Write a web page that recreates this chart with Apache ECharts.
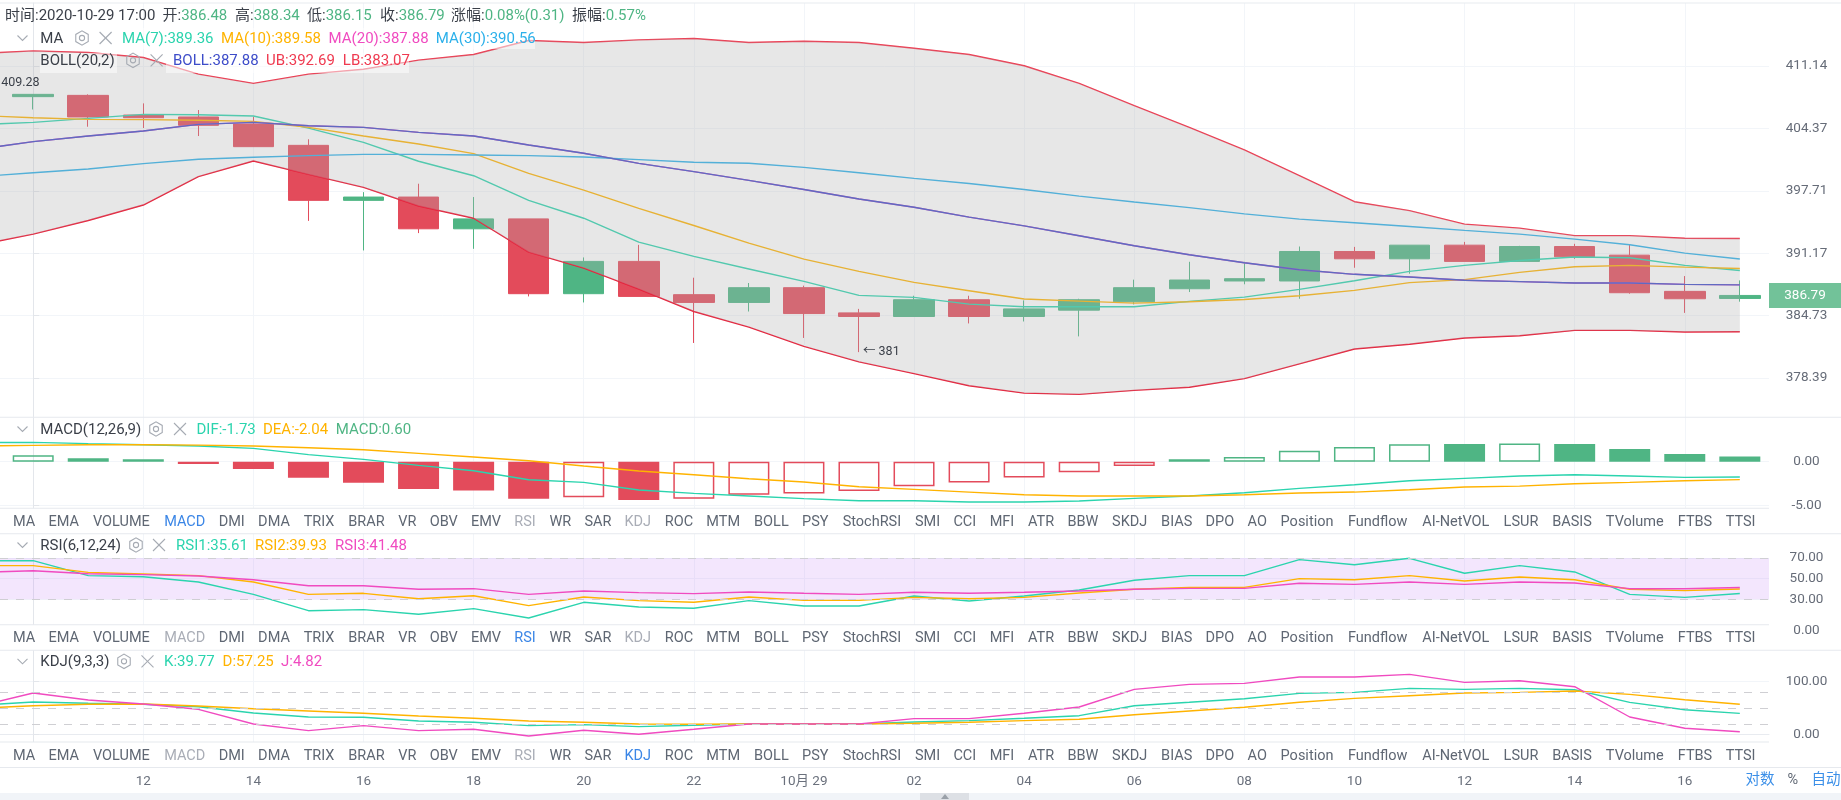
<!DOCTYPE html>
<html>
<head>
<meta charset="utf-8">
<title>K线图</title>
<script src="https://cdn.jsdelivr.net/npm/echarts@6/dist/echarts.min.js"></script>
<style>
    html, body { margin: 0; padding: 0; background: #fff; }
    #main { width: 1841px; height: 800px; }
</style>
</head>
<body>
<div id="main"></div>
<script>
// 蜡烛图数据
var opens = [407.8,407.94,405.81,405.6,404.84,402.55,396.7,397.05,393.71,394.75,386.97,390.31,386.87,386.07,387.59,385.0,384.63,386.35,384.63,385.28,386.14,387.48,388.28,388.28,391.34,390.58,392.0,390.31,391.86,390.96,387.21,386.48];
var closes = [408.05,405.6,405.52,404.7,402.41,396.7,397.05,393.71,394.75,386.97,390.31,386.69,386.07,387.59,384.93,384.63,386.35,384.63,385.41,386.35,387.59,388.38,388.52,391.34,390.58,392.0,390.31,391.86,390.79,387.07,386.45,386.79];
var lows = [406.41,404.55,404.41,403.55,402.41,394.54,391.45,393.26,391.62,386.69,386.07,386.69,381.93,385.14,382.44,381.0,384.63,383.92,384.12,382.6,385.87,387.14,387.94,386.45,389.65,389.03,390.31,390.31,390.58,386.97,385.0,386.15];
var highs = [408.05,408.05,407.07,406.35,405.63,403.2,397.57,398.46,397.05,394.75,390.72,392.03,388.62,388.07,387.8,385.41,386.76,386.76,386.28,386.45,388.42,390.27,390.27,391.86,391.82,392.0,392.34,391.93,392.14,392.03,388.79,388.34];
var offscreenHigh = 409.28;

// 指标线，第一个点在画面左侧之外
var ma7 = [404.77,405.02,405.45,405.88,405.84,405.7,404.4,402.87,400.85,399.31,396.7,394.82,392.32,390.83,389.52,388.24,386.8,386.59,385.9,385.63,385.63,385.63,386.18,386.62,387.42,388.31,389.28,389.9,390.41,390.76,390.69,389.9,389.36];
var ma10 = [405.76,405.52,405.34,405.31,405.24,405.13,404.48,403.55,402.69,401.66,399.56,397.78,395.86,394.06,392.21,390.55,389.28,388.14,387.28,386.42,386.21,386.0,386.14,386.38,386.76,387.31,388.11,388.42,389.17,389.76,389.9,389.72,389.58];
var ma30 = [399.2,399.63,400.03,400.6,401.06,401.27,401.45,401.59,401.59,401.52,401.45,401.31,401.02,400.74,400.63,400.2,399.63,399.03,398.49,397.85,397.15,396.53,395.94,395.28,394.72,394.34,393.95,393.54,393.15,392.63,392.04,391.17,390.56];
var bollMid = [402.13,402.95,403.55,404.09,404.8,405.02,404.66,404.48,403.94,403.55,402.59,401.7,400.63,399.74,398.81,397.85,396.84,395.97,394.93,394.02,392.98,391.94,391.0,390.17,389.45,388.97,388.69,388.35,388.21,388.07,388.07,387.93,387.88];
var bollUp = [412.5,412.8,412.62,412.07,410.25,409.24,410.25,410.79,411.78,412.4,413.94,413.72,414.01,414.16,413.72,413.86,413.72,413.09,412.4,411.17,409.24,406.82,404.48,402.06,399.32,396.56,395.62,394.2,393.78,393.0,393.0,392.72,392.69];
var bollLow = [392.0,393.15,394.58,396.21,399.21,400.88,399.45,398.07,396.11,394.82,391.27,389.62,387.45,385.14,383.55,381.59,380.01,378.83,377.61,376.87,376.74,377.14,377.45,378.32,379.81,381.32,381.8,382.44,382.67,383.21,383.21,383.04,383.07];

var macdBars = [0.72,0.38,0.27,-0.27,-0.83,-1.82,-2.39,-3.11,-3.26,-4.2,-4.05,-4.36,-4.2,-3.75,-3.6,-3.33,-2.8,-2.35,-1.78,-1.21,-0.49,0.27,0.53,1.25,1.67,1.97,2.0,2.08,2.0,1.44,0.87,0.6];
var macdHollow = [0,10,12,13,14,15,16,17,18,19,20,22,23,24,25,27];
var dif = [2.18,2.2,2.05,1.93,1.78,1.52,0.8,0.27,-0.42,-1.02,-2.05,-2.35,-3.22,-3.6,-3.9,-4.2,-4.43,-4.43,-4.58,-4.58,-4.47,-4.17,-3.9,-3.52,-3.03,-2.61,-2.16,-1.89,-1.63,-1.48,-1.63,-1.78,-1.73];
var dea = [1.78,1.86,1.93,1.93,1.89,1.78,1.59,1.36,0.95,0.53,0.11,-0.49,-1.06,-1.48,-1.93,-2.31,-2.84,-3.14,-3.45,-3.75,-3.9,-3.9,-3.9,-3.75,-3.56,-3.45,-3.18,-2.88,-2.77,-2.5,-2.35,-2.16,-2.04];

var rsi1 = [67.4,67.4,52.9,51.9,46.8,34.8,19.0,20,15.5,21,11.9,27.1,22.6,21.3,28.7,23.5,23.5,33.2,28.4,33.2,39,48.4,52.9,52.9,68.4,63.5,69.7,55.2,62.6,56.5,34.8,31.9,35.61];
var rsi2 = [62.6,62.6,56.1,54.5,52.9,46.8,34.8,35.8,30.6,33.5,23.9,32.3,28.7,27.1,32.3,29,29,31.9,30.6,31.9,36.1,39.7,41.6,41.6,50,49,52.9,47.7,51.6,49,39.7,38.4,39.93];
var rsi3 = [56.1,57.7,54.8,53.9,52.6,49,43.2,43.2,39.7,40.3,34.8,38.1,36.5,35.5,37.1,35.8,34.8,36.8,35.8,36.8,38.1,39.7,40.6,40.6,45.5,44.5,46.8,44.5,46.8,45.8,40.3,40.3,41.48];

var kdjK = [55.1,61.4,58.9,57,52.5,40.5,32.9,32.3,25.3,22.8,16.5,18.4,14.6,17.1,19.6,19.6,19.6,23.4,25.9,30.4,35.4,54.4,60.8,67.7,77.8,79.7,87.3,85.4,87.3,84.8,60.8,46.8,39.77];
var kdjD = [49.4,54.4,57,57.6,53.8,48.7,44.3,39.9,34.8,30.4,25.3,22.8,19.6,19,19.6,19.6,19.6,20.9,22.8,25.9,28.5,37.3,44.3,51.3,60.8,68.4,73.4,78.5,79.7,82.3,75.9,65.8,57.25];
var kdjJ = [53.2,78.5,65.2,57.6,47.5,19.6,7,16.5,7,9.5,-3.2,7.6,0,9.5,19.6,19.6,19.6,29.7,29.7,39.9,51.9,85.4,94.9,96.8,108.9,108.9,113.9,98.7,101.9,90.5,32.9,11.4,4.82];

// 坐标轴刻度
var timeTicks = [2,4,6,8,10,12,14,16,18,20,22,24,26,28,30];
var timeLabels = ['12','14','16','18','20','22','10月 29','02','04','06','08','10','12','14','16'];
var priceTicks = [378.39,384.73,391.17,397.71,404.37,411.14];
var macdTicks = [-5,0];
var rsiTicks = [0,30,50,70];
var kdjTicks = [0,100];
var rsiLines = [70,30];
var kdjLines = [80,50,20];

var indicatorTabs = ['MA','EMA','VOLUME','MACD','DMI','DMA','TRIX','BRAR','VR','OBV','EMV','RSI','WR','SAR','KDJ','ROC','MTM','BOLL','PSY','StochRSI','SMI','CCI','MFI','ATR','BBW','SKDJ','BIAS','DPO','AO','Position','Fundflow','AI-NetVOL','LSUR','BASIS','TVolume','FTBS','TTSI'];
var tabCenters = [24,63.7,121.4,184.7,231.7,274,319,366.5,407.3,443.7,486,525,560.3,597.9,637.8,678.9,723.2,771.4,815.3,871.9,927.6,964.8,1002,1041,1083,1129.7,1176.7,1219.8,1257.2,1307,1377.6,1455.8,1521,1572,1634.8,1695,1740.6];

var FONT = 'Roboto, "Noto Sans CJK SC", sans-serif';
var GREEN = '#4fb584', RED = '#e34b5b';
var TEAL = '#2bd4ae', ORANGE = '#ffb300', PINK = '#f04bc0', SKY = '#2bb0ea', INDIGO = '#3d4cc9', UBRED = '#ef3a50';
var AXIS_X = 1769, XMIN = -0.603, XMAX = 31.53;

var grids = [
    { left: 0, width: AXIS_X, top: 3, height: 414 },
    { left: 0, width: AXIS_X, top: 417, height: 116 },
    { left: 0, width: AXIS_X, top: 533, height: 116 },
    { left: 0, width: AXIS_X, top: 649, height: 118 }
];

function makeX(index) {
    return {
        type: 'value', gridIndex: index, min: XMIN, max: XMAX,
        axisLine: { show: index === 3, lineStyle: { color: '#e8ebf0' } },
        axisTick: { show: false, customValues: timeTicks },
        axisLabel: {
            show: index === 3, customValues: timeTicks, margin: 8,
            color: '#6a707c', fontFamily: FONT, fontSize: 13.5,
            formatter: function (v) { return timeLabels[timeTicks.indexOf(v)]; }
        },
        splitLine: { show: true, lineStyle: { color: '#f2f5f9' } }
    };
}

function makeY(index, type, min, max, ticks) {
    var axis = {
        type: type, gridIndex: index, position: 'right', min: min, max: max,
        axisLine: { show: true, lineStyle: { color: '#e3e6eb' } },
        axisTick: { show: true, length: 6, customValues: ticks, lineStyle: { color: '#e3e6eb' } },
        axisLabel: {
            customValues: ticks, margin: 37.5, align: 'center', padding: [2, 0, 0, 0],
            color: '#666c78', fontFamily: FONT, fontSize: 13.5,
            formatter: function (v) { return v.toFixed(2); }
        },
        splitLine: { show: true, lineStyle: { color: '#f2f5f9' } }
    };
    return axis;
}

// 第一个值对应 x = -1
function linePairs(values) {
    return values.map(function (v, i) { return [i - 1, v]; });
}

function lineSeries(name, values, color, pane, extra) {
    var s = {
        name: name, type: 'line', xAxisIndex: pane, yAxisIndex: pane,
        data: linePairs(values), symbol: 'none', silent: true, z: 2,
        lineStyle: { color: color, width: 1.4 }
    };
    return Object.assign(s, extra || {});
}

var candleData = opens.map(function (o, i) {
    return [i, o, closes[i], lows[i], highs[i]];
});

var macdData = macdBars.map(function (v, i) {
    var color = v >= 0 ? GREEN : RED;
    var hollow = macdHollow.indexOf(i) >= 0;
    return {
        value: [i, v],
        itemStyle: { color: hollow ? 'rgba(0,0,0,0)' : color, borderColor: color, borderWidth: hollow ? 1.5 : 0 }
    };
});

var lowest = lows.indexOf(Math.min.apply(null, lows));
var lastClose = closes[closes.length - 1];

var series = [
    {
        name: 'K', type: 'candlestick', xAxisIndex: 0, yAxisIndex: 0, silent: true, z: 1,
        data: candleData, barWidth: 41, encode: { x: 0, y: [1, 2, 3, 4] },
        itemStyle: { color: GREEN, color0: RED, borderColor: GREEN, borderColor0: RED, borderWidth: 1 },
        markPoint: {
            silent: true, symbol: 'circle', symbolSize: 0,
            label: { show: true, position: 'right', color: '#3a3f48', fontFamily: FONT, fontSize: 12.5 },
            data: [
                { coord: [lowest, lows[lowest]], label: { distance: 4, formatter: '← ' + Math.round(lows[lowest]) } },
                { coord: [XMIN + 0.01, offscreenHigh], label: { distance: 0, offset: [-15, 0], formatter: '← ' + offscreenHigh } }
            ]
        },
        markLine: {
            silent: true, symbol: 'none', animation: false,
            lineStyle: { width: 0, color: 'rgba(0,0,0,0)' },
            label: {
                show: true, position: 'end', distance: 0, align: 'left',
                formatter: '{a|' + lastClose.toFixed(2) + '}',
                rich: {
                    a: {
                        width: 72, height: 25, lineHeight: 27, align: 'center',
                        backgroundColor: '#72c299', color: '#fff', fontFamily: FONT, fontSize: 13.5
                    }
                }
            },
            data: [{ yAxis: lastClose }]
        }
    },
    lineSeries('MA7', ma7, TEAL, 0),
    lineSeries('MA10', ma10, ORANGE, 0),
    lineSeries('MA20', bollMid, PINK, 0),
    lineSeries('MA30', ma30, SKY, 0),
    lineSeries('BOLL', bollMid, INDIGO, 0),
    lineSeries('UB', bollUp, UBRED, 0),
    lineSeries('LB', bollLow, '#e8203a', 0),
    {
        // 布林带，盖在蜡烛和均线上面
        name: 'band', type: 'custom', xAxisIndex: 0, yAxisIndex: 0, silent: true, z: 3,
        data: bollUp.map(function (u, i) { return [i - 1, u, bollLow[i]]; }),
        encode: { x: 0, y: [1, 2] },
        renderItem: function (params, api) {
            if (params.dataIndex !== 0) { return null; }
            var points = [];
            bollUp.forEach(function (u, i) { points.push(api.coord([i - 1, u])); });
            for (var i = bollLow.length - 1; i >= 0; i--) { points.push(api.coord([i - 1, bollLow[i]])); }
            return { type: 'polygon', shape: { points: points }, style: { fill: 'rgba(176,176,176,0.3)' }, silent: true };
        }
    },
    {
        name: 'MACD', type: 'bar', xAxisIndex: 1, yAxisIndex: 1, silent: true, z: 1,
        data: macdData, barWidth: 41
    },
    lineSeries('DIF', dif, TEAL, 1),
    lineSeries('DEA', dea, ORANGE, 1),
    lineSeries('RSI1', rsi1, TEAL, 2, {
        markArea: {
            silent: true,
            itemStyle: { color: 'rgba(195,130,245,0.2)' },
            data: [[{ yAxis: rsiLines[0] }, { yAxis: rsiLines[1] }]]
        },
        markLine: {
            silent: true, symbol: 'none', animation: false, label: { show: false },
            lineStyle: { color: '#cfcfd3', type: [8, 8], width: 1 },
            data: rsiLines.map(function (v) { return { yAxis: v }; })
        }
    }),
    lineSeries('RSI2', rsi2, ORANGE, 2),
    lineSeries('RSI3', rsi3, PINK, 2),
    lineSeries('K', kdjK, TEAL, 3, {
        markLine: {
            silent: true, symbol: 'none', animation: false, label: { show: false },
            lineStyle: { color: '#cfcfd3', type: [8, 8], width: 1 },
            data: kdjLines.map(function (v) { return { yAxis: v }; })
        }
    }),
    lineSeries('D', kdjD, ORANGE, 3),
    lineSeries('J', kdjJ, PINK, 3)
];

// 界面上的文字和小图标
var graphics = [];

function rect(x, y, w, h, fill, z) {
    graphics.push({ type: 'rect', silent: true, z: z || 50, shape: { x: x, y: y, width: w, height: h }, style: { fill: fill } });
}

function label(x, y, text, color, size, align) {
    graphics.push({
        type: 'text', silent: true, z: 60, x: x, y: y + 1,
        style: {
            text: text, fill: color, fontFamily: FONT, fontSize: size || 15,
            align: align || 'left', verticalAlign: 'middle'
        }
    });
}

function infoPair(x, y, name, value) {
    graphics.push({
        type: 'text', silent: true, z: 60, x: x, y: y + 1,
        style: {
            text: '{a|' + name + '}{b|' + value + '}', verticalAlign: 'middle',
            rich: {
                a: { fill: '#3a3f48', fontFamily: FONT, fontSize: 15 },
                b: { fill: GREEN, fontFamily: FONT, fontSize: 15 }
            }
        }
    });
}

function strokeLine(x1, y1, x2, y2, color) {
    graphics.push({
        type: 'line', silent: true, z: 60,
        shape: { x1: x1, y1: y1, x2: x2, y2: y2 },
        style: { stroke: color, lineWidth: 1.1 }
    });
}

function hexIcon(cx, cy) {
    var r = 7.2, pts = [];
    for (var i = 0; i < 6; i++) {
        var a = Math.PI / 3 * i + Math.PI / 6;
        pts.push([cx + r * Math.cos(a), cy + r * Math.sin(a)]);
    }
    graphics.push({ type: 'polygon', silent: true, z: 60, shape: { points: pts }, style: { fill: 'none', stroke: '#a6abb3', lineWidth: 1.1 } });
    graphics.push({ type: 'circle', silent: true, z: 60, shape: { cx: cx, cy: cy, r: 2.6 }, style: { fill: 'none', stroke: '#a6abb3', lineWidth: 1.1 } });
}

function closeIcon(cx, cy) {
    strokeLine(cx - 6, cy - 6, cx + 6, cy + 6, '#a6abb3');
    strokeLine(cx - 6, cy + 6, cx + 6, cy - 6, '#a6abb3');
}

function chevron(cx, cy) {
    graphics.push({
        type: 'polyline', silent: true, z: 60,
        shape: { points: [[cx - 5, cy - 2.5], [cx, cy + 2.5], [cx + 5, cy - 2.5]] },
        style: { fill: 'none', stroke: '#a6abb3', lineWidth: 1.1 }
    });
}

function paneTitle(y, name, hexX, closeX, parts, hasChevron) {
    if (hasChevron) { chevron(22.5, y); }
    label(40.3, y, name, '#3a3f48');
    hexIcon(hexX, y);
    closeIcon(closeX, y);
    parts.forEach(function (p) { label(p[0], y, p[1], p[2]); });
}

function tabRow(y, active) {
    rect(0, y - 13, AXIS_X, 25.5, '#fff');
    rect(0, y - 13.5, AXIS_X, 1, '#e6e9ee');
    rect(0, y + 12, 1841, 1, '#e6e9ee');
    indicatorTabs.forEach(function (name, i) {
        var color = '#5f6773';
        if (name === active) { color = '#3b86e6'; }
        else if (name === 'MACD' || name === 'RSI' || name === 'KDJ') { color = '#a9adb6'; }
        label(tabCenters[i], y, name, color, 14.5, 'center');
    });
}

// 顶部行情
rect(0, 2.5, 1841, 1, '#e8ebf0');
label(5, 15.5, '时间:2020-10-29 17:00', '#3a3f48');
infoPair(162.5, 15.5, '开:', '386.48');
infoPair(235, 15.5, '高:', '388.34');
infoPair(307, 15.5, '低:', '386.15');
infoPair(380, 15.5, '收:', '386.79');
infoPair(451, 15.5, '涨幅:', '0.08%(0.31)');
infoPair(572, 15.5, '振幅:', '0.57%');

// 图例底色
rect(36, 28, 75, 21, 'rgba(255,255,255,0.5)');
rect(118, 28, 417, 21, 'rgba(255,255,255,0.5)');
rect(40, 53, 77, 20, 'rgba(255,255,255,0.5)');
rect(166, 53, 243, 20, 'rgba(255,255,255,0.5)');

paneTitle(38, 'MA', 82, 105.6, [[122, 'MA(7):389.36', TEAL], [221, 'MA(10):389.58', ORANGE], [328.6, 'MA(20):387.88', PINK], [435.8, 'MA(30):390.56', SKY]], true);
paneTitle(60.3, 'BOLL(20,2)', 133, 156.6, [[173, 'BOLL:387.88', INDIGO], [266, 'UB:392.69', UBRED], [342.8, 'LB:383.07', UBRED]], false);
paneTitle(429, 'MACD(12,26,9)', 156, 180, [[196.5, 'DIF:-1.73', TEAL], [263, 'DEA:-2.04', ORANGE], [335.7, 'MACD:0.60', GREEN]], true);
paneTitle(545, 'RSI(6,12,24)', 136, 159, [[176, 'RSI1:35.61', TEAL], [255, 'RSI2:39.93', ORANGE], [335, 'RSI3:41.48', PINK]], true);
paneTitle(661.3, 'KDJ(9,3,3)', 124, 147.5, [[164, 'K:39.77', TEAL], [222.6, 'D:57.25', ORANGE], [281, 'J:4.82', PINK]], true);

rect(0, 416.7, 1841, 1, '#e6e9ee');
tabRow(521.3, 'MACD');
tabRow(637.7, 'RSI');
tabRow(755, 'KDJ');

// 右下角按钮和底部条
label(1760, 779.5, '对数', '#3b8fe8', 14.5, 'center');
label(1792.7, 779.5, '%', '#5f6773', 14.5, 'center');
label(1826, 779.5, '自动', '#3b8fe8', 14.5, 'center');
rect(0, 793, 1841, 7, '#f1f4f8');
rect(920, 793, 49, 7, '#dde0e5');
graphics.push({
    type: 'polygon', silent: true, z: 60,
    shape: { points: [[945, 794], [949, 799], [941, 799]] },
    style: { fill: '#9aa0a8' }
});

var myChart = echarts.init(document.getElementById('main'));

var option = {
    animation: false,
    backgroundColor: '#fff',
    grid: grids,
    xAxis: [makeX(0), makeX(1), makeX(2), makeX(3)],
    yAxis: [
        makeY(0, 'log', 374.48, 418.09, priceTicks),
        makeY(1, 'value', -8.1, 5.08, macdTicks),
        makeY(2, 'value', -18.1, 94.2, rsiTicks),
        makeY(3, 'value', -62.2, 162.2, kdjTicks)
    ],
    series: series,
    graphic: { elements: graphics }
};
myChart.setOption(option);
</script>
</body>
</html>
